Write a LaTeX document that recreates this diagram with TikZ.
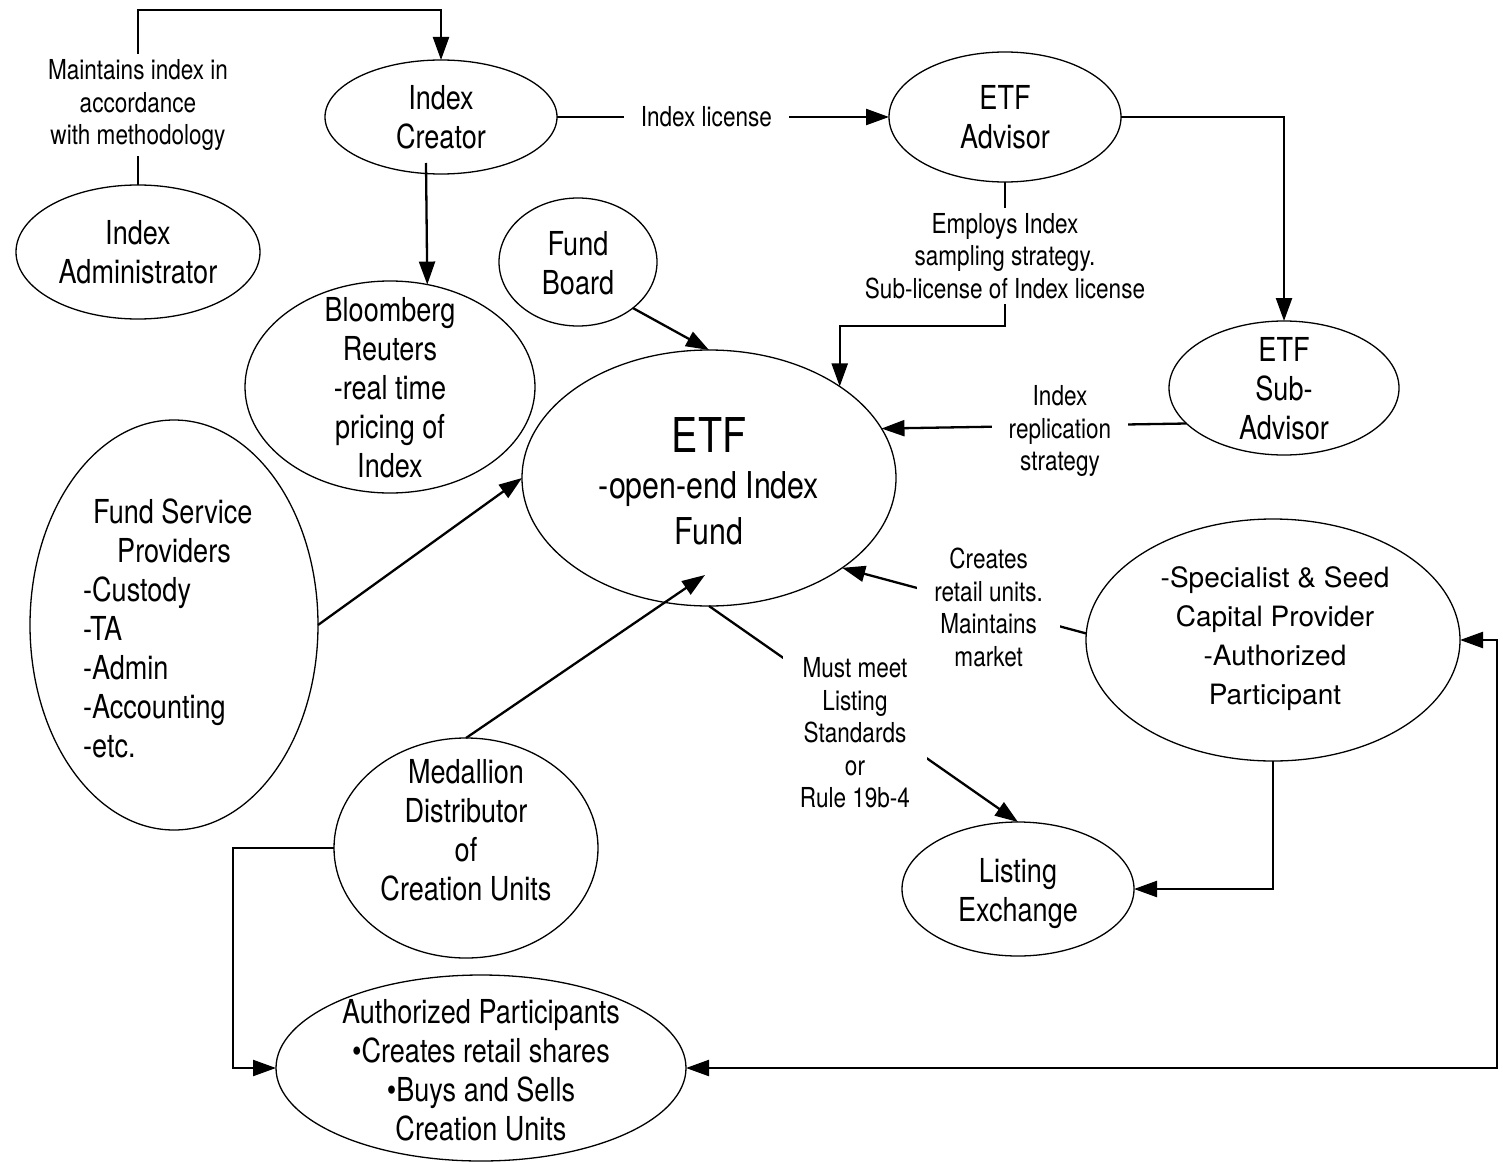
\documentclass[tikz,border=0pt]{standalone}
\usepackage{fontspec}
\setmainfont{TeX Gyre Heros}
\newfontfamily\narrowf{TeX Gyre Heros}[FakeStretch=0.82]
\newfontfamily\widef{TeX Gyre Heros}
\usetikzlibrary{shapes.geometric, arrows.meta, calc}
\newcommand{\nodefont}{\narrowf\fontsize{33}{39}\selectfont}
\newcommand{\lblfont}{\narrowf\fontsize{27.5}{32.5}\selectfont}
\begin{document}
\begin{tikzpicture}[x=1pt,y=-1pt,
  ell/.style={draw, ellipse, line width=1.3pt, inner sep=0pt, outer sep=0pt},
  txt/.style={align=center, inner sep=0pt, font=\nodefont},
  lbl/.style={fill=white, align=center, inner xsep=17pt, inner ysep=5pt, font=\lblfont},
  conn/.style={line width=2.3pt},
  arr/.style={conn, -{Triangle[length=23pt,width=16pt]}},
  darr/.style={conn, {Triangle[length=23pt,width=16pt]}-{Triangle[length=23pt,width=16pt]}},
]
\useasboundingbox (0,0) rectangle (1503,1161);

% ellipses
\node[ell, minimum width=244pt, minimum height=134pt] (ia) at (138,252) {};
\node[ell, minimum width=232pt, minimum height=114pt] (ic) at (441,117) {};
\node[ell, minimum width=232pt, minimum height=130pt] (ea) at (1005,117) {};
\node[ell, minimum width=158pt, minimum height=128pt] (fb) at (578,262) {};
\node[ell, minimum width=290pt, minimum height=212pt] (bl) at (390,387) {};
\node[ell, minimum width=374pt, minimum height=256pt] (etf) at (709,478) {};
\node[ell, minimum width=230pt, minimum height=134pt] (sa) at (1284,388) {};
\node[ell, minimum width=288pt, minimum height=410pt] (fsp) at (174,625) {};
\node[ell, minimum width=374pt, minimum height=242pt] (sp) at (1273,640) {};
\node[ell, minimum width=264pt, minimum height=220pt] (md) at (466,848) {};
\node[ell, minimum width=232pt, minimum height=134pt] (le) at (1018,889) {};
\node[ell, minimum width=410pt, minimum height=186pt] (ap) at (481,1068) {};

% texts
\node[txt] (ia-t) at (ia.center) {Index\\Administrator};
\node[txt] (ic-t) at (ic.center) {Index\\Creator};
\node[txt] (ea-t) at (ea.center) {ETF\\Advisor};
\node[txt] (fb-t) at (578,263) {Fund\\Board};
\node[txt] (bl-t) at (390,388) {Bloomberg\\Reuters\\-real time\\pricing of\\Index};
\node[txt, font=\narrowf\fontsize{37}{46}\selectfont] (etf-t) at (709,481) {{\fontsize{48}{46}\selectfont ETF}\\-open-end Index\\Fund};
\node[txt] (sa-t) at (1284,389) {ETF\\Sub-\\Advisor};
\node[txt, align=left, anchor=west] (fsp-t) at (83,628) {\hspace*{10pt}Fund Service\\\hspace*{34pt}Providers\\-Custody\\-TA\\-Admin\\-Accounting\\-etc.};
\node[txt, font=\widef\fontsize{28}{39}\selectfont] (sp-t) at (1275,639) {-Specialist \& Seed\\Capital Provider\\-Authorized\\Participant};
\node[txt] (md-t) at (466,830) {Medallion\\Distributor\\of\\Creation Units};
\node[txt] (le-t) at (1018,894) {Listing\\Exchange};
\node[txt] (ap-t) at (481,1070) {Authorized Participants\\•Creates retail shares\\•Buys and Sells\\Creation Units};

% connectors
\draw[arr] (ia.north) -- ++(0,-175) -| (ic.north);
\node[lbl] (l1) at (138,105) {Maintains index in\\accordance\\with methodology};

\draw[arr] (ic.east) -- (ea.west) node[lbl, pos=0.45] (l2) {Index license};

\coordinate (bt) at ([shift={(-15,46)}]ic.center);
\draw[arr] (bt) -- (bl.70.7);

\draw[arr] (ea.east) -| (sa.north);

\draw[arr] (ea.south) -- ++(0,144) -| (etf.35);
\node[lbl] (l3) at (1005,256) {Employs Index\\sampling strategy.\\Sub-license of Index license};

\draw[arr] (sa.200) -- (etf.16);
\node[lbl] (l4) at (1060,431) {Index\\replication\\strategy};

\draw[arr] (fb.320) -- (etf.north);
\draw[arr] (fsp.east) -- (etf.west);
\coordinate (etfin) at ([shift={(-4,97)}]etf.center);
\draw[arr] (md.north) -- (etfin);

\draw[arr] (sp.178) -- (etf.-34) node[lbl, pos=0.40] (l5) {Creates\\retail units.\\Maintains\\market};

\draw[arr] (etf.south) -- (le.north);
\node[lbl] (l6) at (855,733) {Must meet\\Listing\\Standards\\or\\Rule 19b-4};

\draw[arr] (sp.south) |- (le.east);
\draw[arr] (md.west) -- ++(-101,0) |- (ap.west);
\coordinate (rc) at (1497,1068);
\draw[darr] (ap.east) -- (ap.east -| rc) |- (sp.east);
\end{tikzpicture}
\end{document}
